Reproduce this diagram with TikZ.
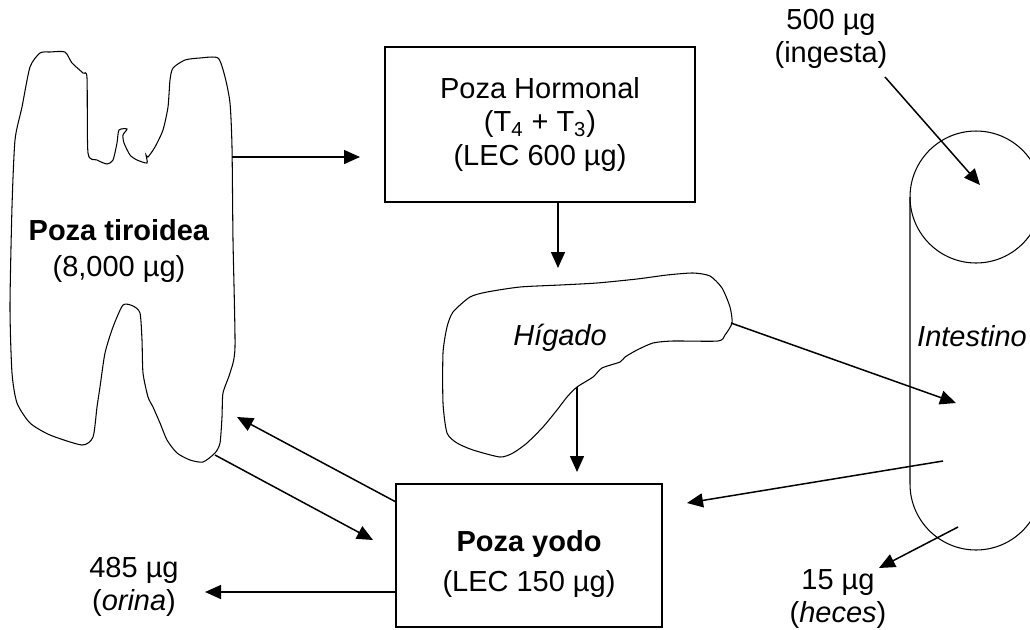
\documentclass[tikz,border=0pt]{standalone}
\usepackage{fontspec}
\setmainfont{Liberation Sans}
\usetikzlibrary{arrows.meta}

\begin{document}
\begin{tikzpicture}[
  x=0.02cm, y=-0.02cm,
  every node/.style={font=\fontsize{16.5}{19}\selectfont},
  organ/.style={draw, line width=0.6pt},
  pool/.style={draw, rectangle, line width=1.2pt, inner sep=0pt},
  flow/.style={-{Triangle[length=0.32cm, width=0.28cm]}, line width=0.85pt},
  txt/.style={align=center, inner sep=0pt},
]
\clip (0,0) rectangle (1030,629);

% --- Tiroides ---
\draw[organ] plot[smooth cycle, tension=0.4] coordinates {
  (65,52) (72,63) (83,73) (87,78) (88,153) (97,160) (107,164) (113,160)
  (117,143) (119,130) (127,129) (123,135) (124,143) (130,155) (137,160)
  (147,163) (146,155) (148,157) (155,147) (163,130) (168,107) (170,80)
  (173,68) (185,60) (200,58) (218,58) (225,77) (230,103) (232,147)
  (233,240) (235,347) (230,373) (223,393) (222,417) (220,443) (215,453)
  (203,462) (190,460) (177,453) (167,440) (160,423) (153,407) (148,397)
  (143,373) (142,340) (140,313) (133,306) (123,305) (113,327) (105,353)
  (100,387) (97,407) (93,437) (82,445) (50,435) (30,423) (17,403)
  (12,373) (10,307) (12,207) (15,140) (22,107) (30,67) (40,53) (50,52)};
\node[txt, font=\fontsize{16.5}{21}\selectfont] (tiroidea) at (119,251)
  {\textbf{Poza tiroidea}\\(8,000 µg)};

\coordinate (tirR) at (232,157);
\coordinate (tirBase) at (215,455);
\coordinate (tirIn) at (237,417);

% --- Poza hormonal ---
\node[pool, minimum width=6.2cm, minimum height=3.1cm, align=center,
  font=\fontsize{16.5}{19.3}\selectfont] (horm) at (540,124.5)
  {Poza Hormonal\\(T\textsubscript{4} + T\textsubscript{3})\\(LEC 600 µg)};
\coordinate (hormIn) at (360,157);

% --- Higado ---
\draw[organ] plot[smooth cycle, tension=0.4] coordinates {
  (577,387) (593,377) (602,368) (620,362) (625,357) (637,350) (653,343)
  (673,341) (718,341) (725,335) (732,323) (730,307) (722,288) (710,276)
  (693,273) (667,275) (637,279) (597,283) (560,285) (520,287) (487,292)
  (470,297) (453,312) (447,327) (443,353) (443,403) (447,433) (457,443)
  (473,450) (500,457) (513,453) (527,443) (543,427) (557,410) (567,397)};
\node[font=\fontsize{16.5}{19}\selectfont\itshape] (higado) at (560,338) {Hígado};

\coordinate (higTop) at (558,268);
\coordinate (higBase) at (577,387);
\coordinate (higR) at (731,323);

% --- Intestino ---
\draw[organ] (976,197) circle[radius=1.32cm];
\draw[organ] (910,197) -- (910,484) arc[start angle=180, end angle=360, radius=1.32cm]
  -- (1042,197);
\node[font=\fontsize{16.5}{19}\selectfont\itshape] (intestino) at (972,336) {Intestino};

\coordinate (ingIn) at (980,185);
\coordinate (intIn) at (956,403);
\coordinate (intOut) at (943,461);
\coordinate (intHec) at (958,527);

% --- Poza yodo ---
\node[pool, minimum width=5.32cm, minimum height=2.86cm] (yodo) at (529,555.5) {};
\node[txt, font=\fontsize{16.5}{23}\selectfont] (yodoTxt) at (529,564)
  {\textbf{Poza yodo}\\(LEC 150 µg)};

\coordinate (yodoNW) at (396,502);
\coordinate (yodoL) at (373,540);
\coordinate (yodoTop) at (577,472);
\coordinate (yodoR) at (687,503);
\coordinate (orinaIn) at (205,592);

% --- entradas y salidas ---
\node[txt] (ingesta) at (831,39) {500 µg\\(ingesta)};
\node[txt] (orina) at (134,587) {485 µg\\(\textit{orina})};
\node[txt] (heces) at (838,599) {15 µg\\(\textit{heces})};
\coordinate (ingOut) at (885,77);
\coordinate (hecIn) at (879,568);

% --- flujos ---
\draw[flow] (tirR) -- (hormIn);
\draw[flow] (horm.south -| higTop) -- (higTop);
\draw[flow] (higBase) -- (yodoTop);
\draw[flow] (higR) -- (intIn);
\draw[flow] (ingOut) -- (ingIn);
\draw[flow] (intOut) -- (yodoR);
\draw[flow] (intHec) -- (hecIn);
\draw[flow] (yodo.west |- orinaIn) -- (orinaIn);
\draw[flow] (yodoNW) -- (tirIn);
\draw[flow] (tirBase) -- (yodoL);

\end{tikzpicture}
\end{document}
